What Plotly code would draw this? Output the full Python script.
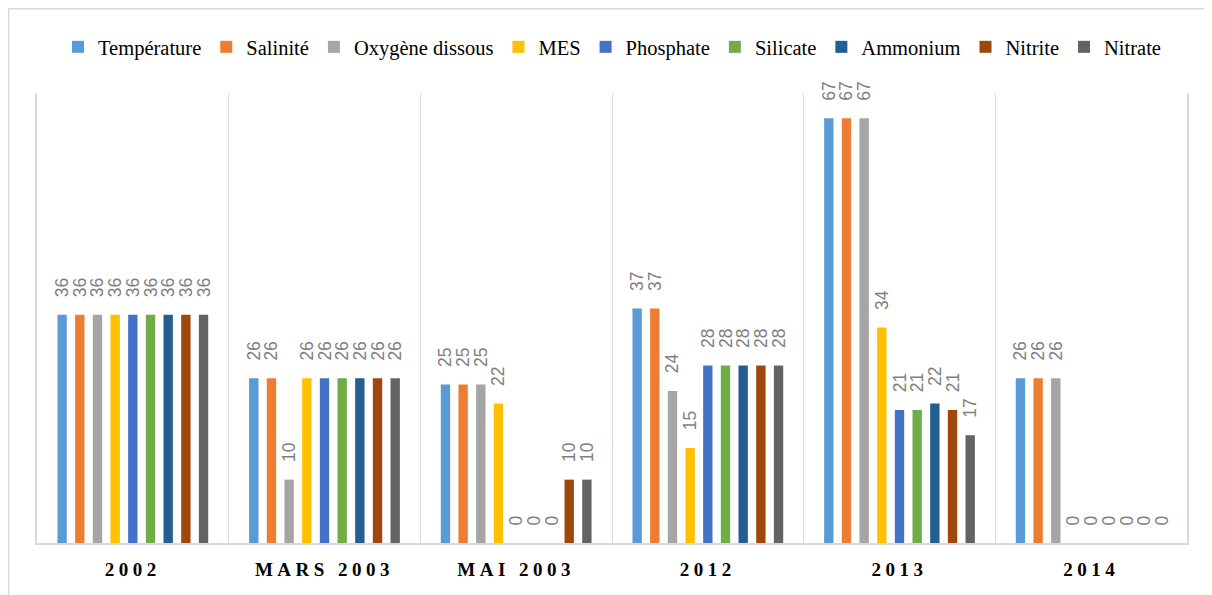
import plotly.graph_objects as go

categories = ["2002", "MARS 2003", "MAI 2003", "2012", "2013", "2014"]
series_names = ["Température", "Salinité", "Oxygène dissous", "MES", "Phosphate",
                "Silicate", "Ammonium", "Nitrite", "Nitrate"]
temperature = [36, 26, 25, 37, 67, 26]
salinite = [36, 26, 25, 37, 67, 26]
oxygene = [36, 10, 25, 24, 67, 26]
mes = [36, 26, 22, 15, 34, 0]
phosphate = [36, 26, 0, 28, 21, 0]
silicate = [36, 26, 0, 28, 21, 0]
ammonium = [36, 26, 0, 28, 22, 0]
nitrite = [36, 26, 10, 28, 21, 0]
nitrate = [36, 26, 10, 28, 17, 0]
colors = ["#5B9BD5", "#ED7D31", "#A5A5A5", "#FFC000", "#4472C4",
          "#70AD47", "#255E91", "#9E480E", "#636363"]

series_values = [temperature, salinite, oxygene, mes, phosphate,
                 silicate, ammonium, nitrite, nitrate]

fig = go.Figure()
for name, vals, col in zip(series_names, series_values, colors):
    fig.add_trace(go.Bar(
        name=name, x=categories, y=vals, marker=dict(color=col, line=dict(width=0)),
        text=["\u00a0\u00a0\u00a0" + str(v) for v in vals],
        textposition="outside", textangle=-90, constraintext="none",
        cliponaxis=False,
        textfont=dict(family="Liberation Sans", size=17.5, color="#7F7F7F"),
    ))

# page has an 8px body margin; figure is sized to fit the window
OFF = 8
W, H = 1212 - OFF, 595 - OFF
L, R, T, B = 37 - OFF, 1212 - 1187, 93 - OFF, 595 - 543
pw, ph = W - L - R, H - T - B

def px_x(p):
    return (p - OFF - L) / pw

def px_y(p):
    return (H - B - (p - OFF)) / ph

fig.add_shape(type="rect", xref="paper", yref="paper",
              x0=px_x(8.7), x1=px_x(1240), y0=px_y(640), y1=px_y(8.7),
              line=dict(color="#D9D9D9", width=1.4), fillcolor="rgba(0,0,0,0)", layer="below")

ticktext = ['<span style="letter-spacing:4.5px">%s</span>' % c for c in categories]

fig.update_layout(
    width=W, height=H,
    margin=dict(l=L, r=R, t=T, b=B),
    paper_bgcolor="white", plot_bgcolor="white",
    barmode="group", bargap=0.17, bargroupgap=0.47,
    showlegend=True,
    legend=dict(orientation="h", x=0.5, xanchor="center", y=px_y(47), yanchor="middle",
                font=dict(family="Liberation Serif", size=20.5, color="#000000"),
                itemwidth=30, traceorder="normal"),
    xaxis=dict(tickmode="array", tickvals=categories, ticktext=ticktext,
               tickson="boundaries", showgrid=True, gridcolor="#D9D9D9", gridwidth=1,
               showline=True, linecolor="#D9D9D9", linewidth=1.5, ticks="",
               ticklabelstandoff=8,
               tickfont=dict(family="Liberation Serif", size=19, color="#000000", weight="bold"),
               range=[-0.5, 5.5], zeroline=False),
    yaxis=dict(range=[0, 71], showticklabels=False, showgrid=False, zeroline=False,
               showline=True, mirror=True, linecolor="#D9D9D9", linewidth=1.5, ticks=""),
)

fig.write_html("out.html")
